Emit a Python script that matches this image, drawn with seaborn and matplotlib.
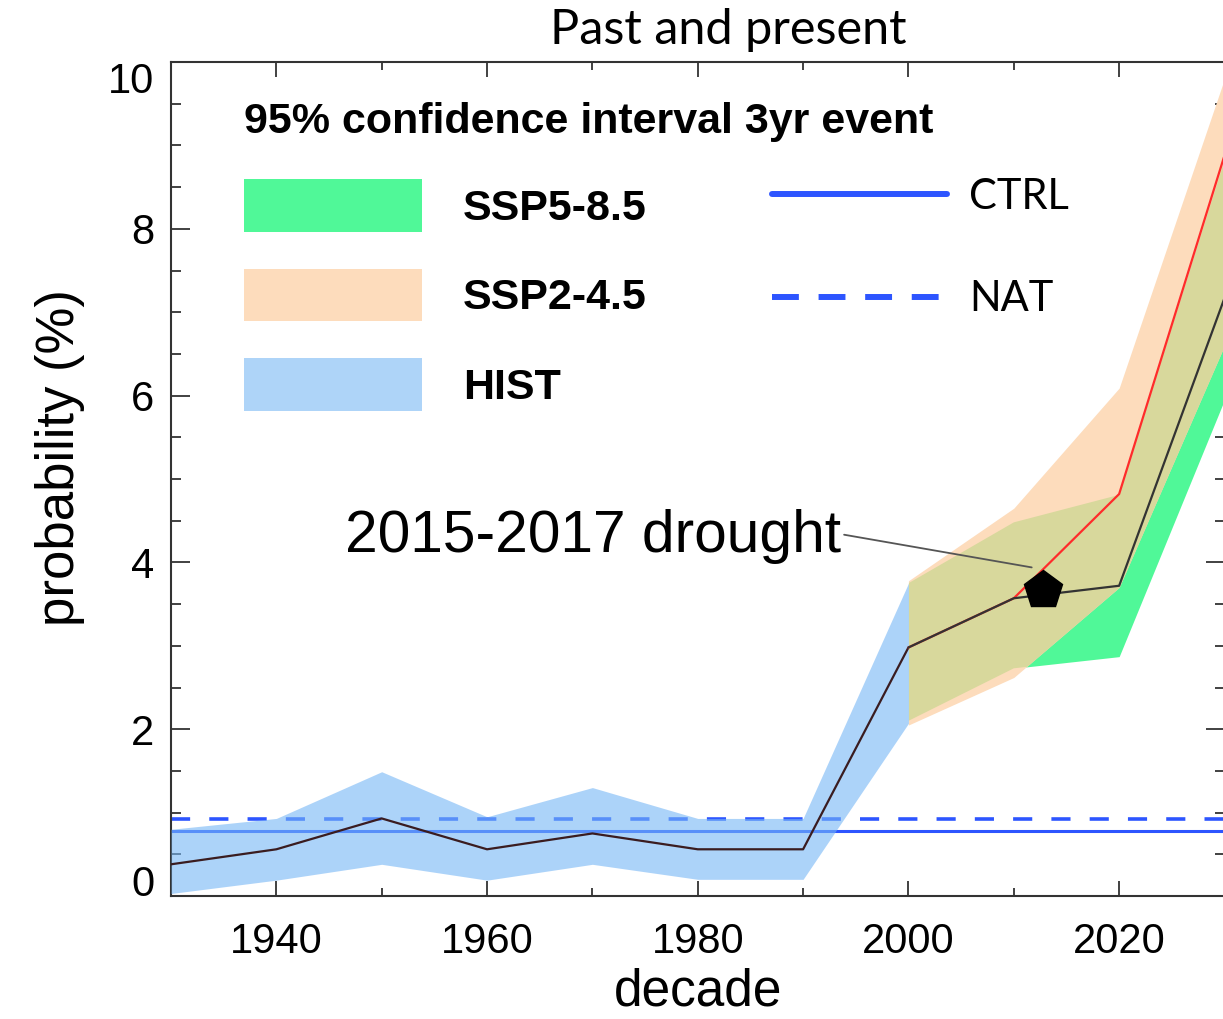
import matplotlib
matplotlib.use("Agg")
import matplotlib.pyplot as plt
import seaborn as sns
from matplotlib.patches import Patch
from matplotlib.lines import Line2D
from matplotlib.ticker import FixedLocator, MultipleLocator

sns.set_style("white")
plt.rcParams["font.family"] = ["Liberation Sans", "DejaVu Sans"]
plt.rcParams.update({"text.color": "black", "axes.labelcolor": "black",
                     "xtick.color": "black", "ytick.color": "black"})

# ---------------- data ----------------
hist_decades = [1930, 1940, 1950, 1960, 1970, 1980, 1990, 2000]
hist_mean = [0.38, 0.56, 0.93, 0.56, 0.75, 0.56, 0.56, 2.98]
hist_low = [0.03, 0.19, 0.38, 0.19, 0.38, 0.20, 0.20, 2.07]
hist_high = [0.80, 0.93, 1.49, 0.95, 1.30, 0.93, 0.93, 3.75]

ssp_decades = [2000, 2010, 2020, 2030]
ssp585_mean = [2.98, 3.57, 3.72, 7.17]
ssp585_low = [2.10, 2.73, 2.87, 5.95]
ssp585_high = [3.75, 4.48, 4.81, 8.82]
ssp245_mean = [2.98, 3.57, 4.82, 8.88]
ssp245_low = [2.05, 2.62, 3.70, 6.60]
ssp245_high = [3.78, 4.65, 6.09, 9.80]

baseline_names = ["CTRL", "NAT"]
baseline_values = [0.78, 0.92]

event_label = "2015-2017 drought"
event_year = [2012.8]
event_prob = [3.67]

band_labels = ["SSP5-8.5", "SSP2-4.5", "HIST"]
legend_title = "95% confidence interval 3yr event"
major_years = [1940, 1960, 1980, 2000, 2020]
minor_years = [1930, 1950, 1970, 1990, 2010, 2030]
prob_ticks = [0, 2, 4, 6, 8, 10]
title = "Past and present"

# ---------------- style ----------------
GREEN = "#50f898"
PEACH = "#fddcbc"
KHAKI = "#d8d89c"
HIST_FILL = "#76b6f5"
HIST_LEGEND = "#aed4f8"
BLUE = "#2d55ff"
AXC = "#333333"

W, H = 1223, 1019
fig = plt.figure(figsize=(W / 100, H / 100), dpi=100)
ax = fig.add_axes([171 / W, 1 - 896 / H, (1224.5 - 171) / W, (896 - 62) / H])

# baselines (under the HIST band)
ax.axhline(baseline_values[0], color=BLUE, lw=2.2, zorder=2)
ax.axhline(baseline_values[1], color=BLUE, lw=2.6, ls=(0, (5.3, 5.3)), zorder=2)

# bands
ax.fill_between(hist_decades, hist_low, hist_high, color=HIST_FILL, alpha=0.6,
                lw=0, zorder=3)
green = ax.fill_between(ssp_decades, ssp585_low, ssp585_high, color=GREEN, lw=0,
                        zorder=1)
ax.fill_between(ssp_decades, ssp245_low, ssp245_high, color=PEACH, lw=0, zorder=1.1)
overlap = ax.fill_between(ssp_decades, ssp245_low, ssp245_high, color=KHAKI, lw=0,
                          zorder=1.2)
overlap.set_clip_path(green.get_paths()[0], ax.transData)

# mean lines
sns.lineplot(x=hist_decades, y=hist_mean, color="#3a1c20", lw=1.6, ax=ax, zorder=4)
sns.lineplot(x=ssp_decades, y=ssp245_mean, color="#ff2b2b", lw=1.6, ax=ax, zorder=4)
sns.lineplot(x=ssp_decades, y=ssp585_mean, color="#333333", lw=1.6, ax=ax, zorder=4.1)

# event marker
ax.plot(event_year, event_prob, marker="p", ms=29, color="black", ls="none", zorder=6)
ax.annotate(event_label, xy=(2011.7, 3.94), xytext=(1946.5, 4.12), fontsize=42.2,
            ha="left", va="baseline", color="black",
            arrowprops=dict(arrowstyle="-", color="#555555", lw=1.3,
                            relpos=(1.0, 0.55), shrinkA=0, shrinkB=0),
            zorder=5)

# axes
ax.set_xlim(1930, 2030)
ax.set_ylim(0, 10)
ax.xaxis.set_major_locator(FixedLocator(major_years))
ax.xaxis.set_minor_locator(FixedLocator(minor_years))
ax.yaxis.set_major_locator(FixedLocator(prob_ticks))
ax.yaxis.set_minor_locator(MultipleLocator(0.5))
ax.tick_params(which="both", direction="in", top=True, right=True, bottom=True,
               left=True, color=AXC, width=1.3, labelcolor="black")
ax.tick_params(axis="x", which="major", length=11, labelsize=30, pad=19)
ax.tick_params(axis="x", which="minor", length=6)
ax.tick_params(axis="y", which="major", length=14, labelsize=30, pad=12)
ax.tick_params(axis="y", which="minor", length=7)
for s in ax.spines.values():
    s.set_color(AXC)
    s.set_linewidth(1.5)

ax.set_xlabel("decade", fontsize=37, labelpad=4)
ax.set_ylabel("probability (%)", fontsize=38)
ax.yaxis.set_label_coords(-0.082, 0.526)

fig.text(728 / W, 1 - 30 / H, title, family=["Lato", "DejaVu Sans"], fontsize=35,
         ha="center", va="center")

# legends
band_handles = [Patch(facecolor=c, edgecolor="none", label=l)
                for c, l in zip([GREEN, PEACH, HIST_LEGEND], band_labels)]
leg1 = ax.legend(handles=band_handles, title=legend_title,
                 title_fontproperties={"weight": "bold", "size": 31},
                 prop={"weight": "bold", "size": 31}, loc="upper left",
                 bbox_to_anchor=(244 / W, 1 - 102 / H), bbox_transform=fig.transFigure,
                 frameon=False, borderpad=0, borderaxespad=0, handlelength=4.14,
                 handleheight=1.5, handletextpad=0.95, labelspacing=0.86,
                 alignment="left")
ax.add_artist(leg1)

line_handles = [Line2D([], [], color=BLUE, lw=4.3, label=baseline_names[0]),
                Line2D([], [], color=BLUE, lw=4.3, ls=(0, (4.5, 3.3)),
                       label=baseline_names[1])]
leg2 = ax.legend(handles=line_handles, prop={"family": ["Lato", "DejaVu Sans"], "size": 30},
                 loc="upper left", bbox_to_anchor=(772 / W, 1 - 178 / H),
                 bbox_transform=fig.transFigure, frameon=False, borderpad=0,
                 borderaxespad=0, handlelength=4.2, handletextpad=0.53,
                 labelspacing=1.54)

# end tick labels sit inside the axis range, as in the original
fig.canvas.draw()
yticks = ax.yaxis.get_major_ticks()
yticks[0].label1.set_verticalalignment("baseline")
yticks[-1].label1.set_verticalalignment("top")

fig.savefig("out.png", dpi=100)
